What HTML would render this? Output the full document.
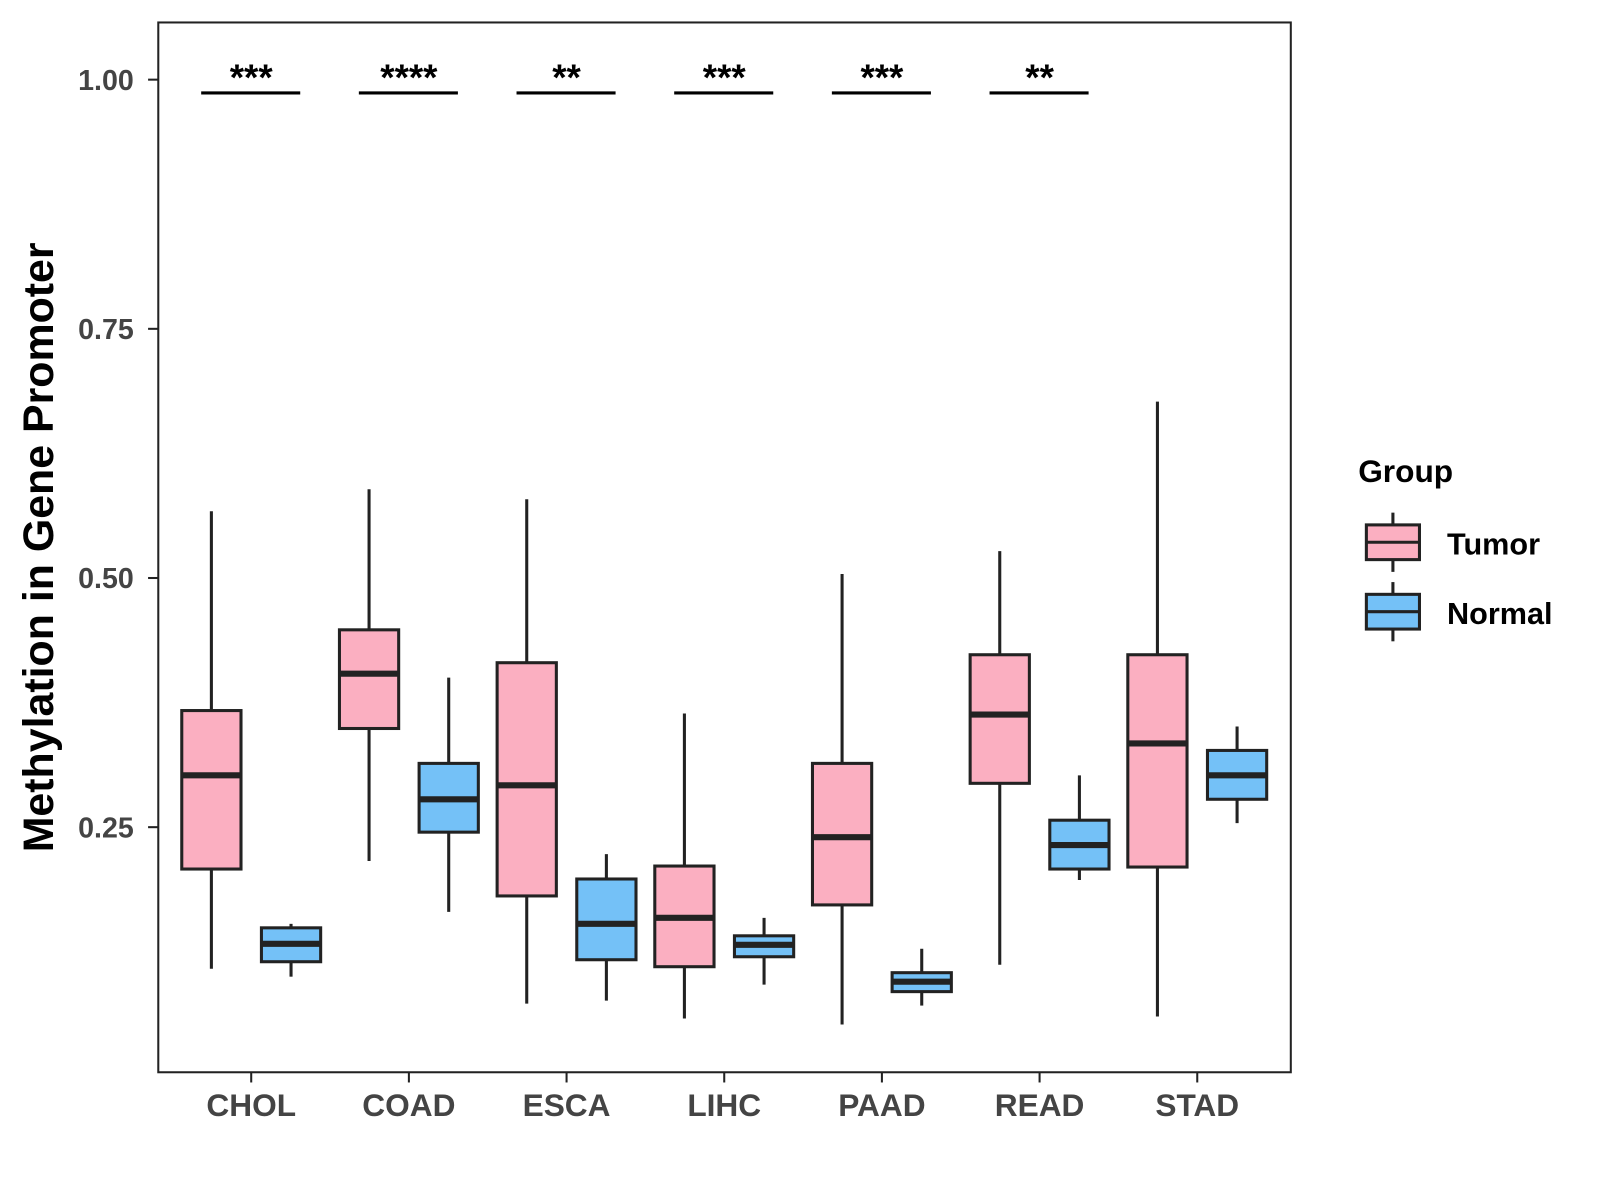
<!DOCTYPE html>
<html><head><meta charset="utf-8"><style>
html,body{margin:0;padding:0;background:#fff;width:1600px;height:1200px;overflow:hidden}
text{font-family:"Liberation Sans",Arial,sans-serif}
</style></head><body>
<svg id="chart" width="1600" height="1200" xmlns="http://www.w3.org/2000/svg">
<g transform="scale(1.0212)">
<rect x="155" y="22" width="1109" height="1028" fill="#fff" stroke="#222" stroke-width="2"/>
<g id="marks"></g>
<text transform="translate(52,536) rotate(-90)" text-anchor="middle" font-size="42" font-weight="bold" fill="#000">Methylation in Gene Promoter</text>
<g>
<text x="1330" y="472" font-size="31" font-weight="bold">Group</text>
<g>
<line x1="1364" y1="502" x2="1364" y2="560" stroke="#222" stroke-width="3"/>
<rect x="1338" y="514" width="52" height="34" fill="#FBAFC1" stroke="#222" stroke-width="3"/>
<line x1="1338" y1="531" x2="1390" y2="531" stroke="#222" stroke-width="3"/>
<text x="1417" y="543" font-size="30" font-weight="bold">Tumor</text></g>
<g>
<line x1="1364" y1="570" x2="1364" y2="628" stroke="#222" stroke-width="3"/>
<rect x="1338" y="582" width="52" height="34" fill="#74C1F7" stroke="#222" stroke-width="3"/>
<line x1="1338" y1="599" x2="1390" y2="599" stroke="#222" stroke-width="3"/>
<text x="1417" y="611" font-size="30" font-weight="bold">Normal</text></g>
</g>
</g>
</svg>
<script>
const categories=["CHOL","COAD","ESCA","LIHC","PAAD","READ","STAD"];
const tumorLow=[0.108,0.216,0.073,0.058,0.052,0.112,0.060];
const tumorQ1=[0.208,0.349,0.181,0.110,0.172,0.294,0.210];
const tumorMed=[0.302,0.404,0.292,0.159,0.240,0.363,0.334];
const tumorQ3=[0.367,0.448,0.415,0.211,0.314,0.423,0.423];
const tumorHigh=[0.567,0.589,0.579,0.364,0.504,0.527,0.677];
const normalLow=[0.100,0.165,0.076,0.092,0.071,0.197,0.254];
const normalQ1=[0.115,0.245,0.117,0.120,0.085,0.208,0.278];
const normalMed=[0.133,0.278,0.153,0.132,0.095,0.232,0.302];
const normalQ3=[0.149,0.314,0.198,0.141,0.104,0.257,0.327];
const normalHigh=[0.153,0.400,0.223,0.159,0.128,0.302,0.351];
const sigLabels=["***","****","**","***","***","**"];
const yTicks=[0.25,0.50,0.75,1.00];
const yTickLabels=["0.25","0.50","0.75","1.00"];
const NS="http://www.w3.org/2000/svg";
const g=document.getElementById('marks');
function y(v){return 78+(1-v)*976;}
function x(i){return 246+i*154.4;}
function mk(tag,attrs,parent){const e=document.createElementNS(NS,tag);for(const k in attrs)e.setAttribute(k,attrs[k]);(parent||g).appendChild(e);return e;}
yTicks.forEach((t,i)=>{
 const l=mk('line',{x1:145,x2:155,y1:y(t),y2:y(t),stroke:'#222','stroke-width':2});
 
 
 const tx=mk('text',{x:131,y:y(t)+10,'text-anchor':'end','font-size':28,'font-weight':'bold',fill:'#444'});
 tx.textContent=yTickLabels[i];
 
 
});
categories.forEach((c,i)=>{
 const l=mk('line',{x1:x(i),x2:x(i),y1:1050,y2:1060,stroke:'#222','stroke-width':2});
 
 
 const tx=mk('text',{x:x(i),y:1093,'text-anchor':'middle','font-size':31,'font-weight':'bold',fill:'#444'});
 tx.textContent=c;
 
 
});
function box(cx,lo,q1,md,q3,hi,fill,name){
 const grp=mk('g',{});
 
 
 mk('line',{x1:cx,x2:cx,y1:y(hi),y2:y(lo),stroke:'#222','stroke-width':3},grp);
 mk('rect',{x:cx-29,y:y(q3),width:58,height:y(q1)-y(q3),fill:fill,stroke:'#222','stroke-width':3},grp);
 mk('line',{x1:cx-29,x2:cx+29,y1:y(md),y2:y(md),stroke:'#222','stroke-width':6},grp);
}
categories.forEach((c,i)=>{
 box(x(i)-39,tumorLow[i],tumorQ1[i],tumorMed[i],tumorQ3[i],tumorHigh[i],'#FBAFC1','box-tumor-'+c.toLowerCase());
 box(x(i)+39,normalLow[i],normalQ1[i],normalMed[i],normalQ3[i],normalHigh[i],'#74C1F7','box-normal-'+c.toLowerCase());
});
sigLabels.forEach((s,i)=>{
 const l=mk('line',{x1:x(i)-49,x2:x(i)+48,y1:91,y2:91,stroke:'#000','stroke-width':3});
 
 
 const tx=mk('text',{x:x(i),y:88,'text-anchor':'middle','font-size':36,'font-weight':'bold',fill:'#000'});
 tx.textContent=s;
 
 
});
</script>
</body></html>
